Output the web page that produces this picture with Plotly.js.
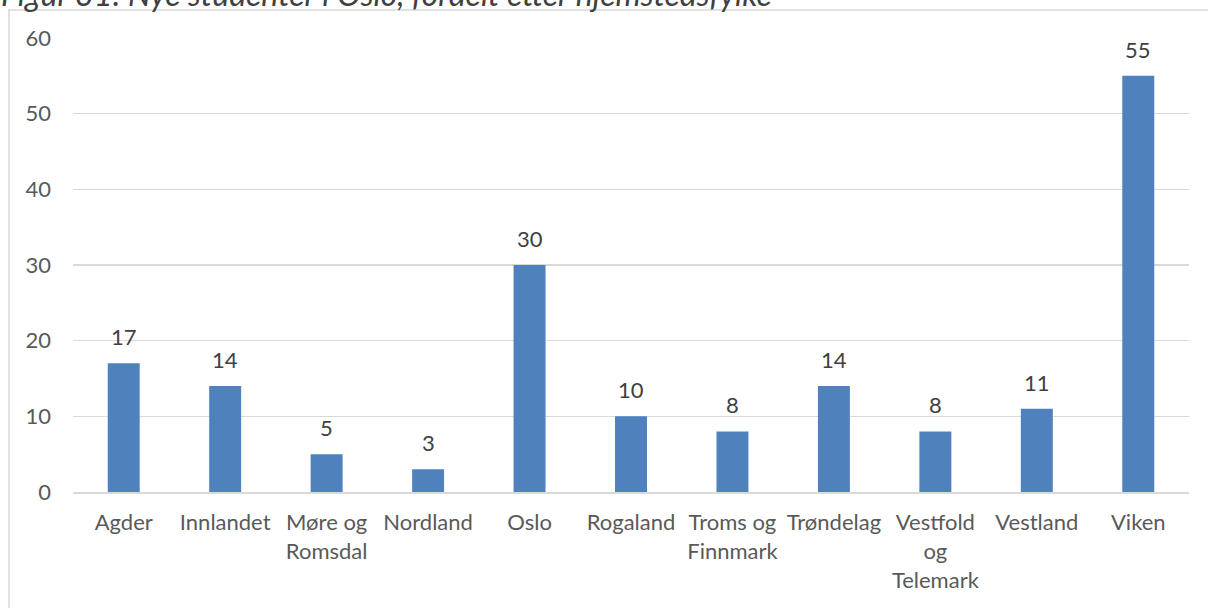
<!DOCTYPE html>
<html>
<head>
<meta charset="utf-8">
<script src="https://cdn.plot.ly/plotly-3.0.1.min.js"></script>
<style>
html,body{margin:0;padding:0;background:#fff;}
#chart{width:1208px;height:608px;}
</style>
</head>
<body>
<div id="chart"></div>
<script>
const categories = ["Agder", "Innlandet", "Møre og<br>Romsdal", "Nordland", "Oslo", "Rogaland",
  "Troms og<br>Finnmark", "Trøndelag", "Vestfold<br>og<br>Telemark", "Vestland", "Viken"];
const values = [17, 14, 5, 3, 30, 10, 8, 14, 8, 11, 55];
const yTicks = [0, 10, 20, 30, 40, 50, 60];
const titleText = "Figur 31: Nye studenter i Oslo, fordelt etter hjemstedsfylke";

const W = 1208, H = 608;
const margin = {l: 73, r: 19, t: 38, b: 116};
const plotW = W - margin.l - margin.r;
const plotH = H - margin.t - margin.b;
const px2paperX = px => (px - margin.l) / plotW;
const px2paperY = py => 1 - (py - margin.t) / plotH;

const FONT = "Lato, 'Open Sans', sans-serif";

const trace = {
  type: "bar",
  x: categories,
  y: values,
  marker: {color: "#4f81bd"},
  hoverinfo: "x+y"
};

const labelAnnotations = categories.map((c, i) => ({
  x: c, y: values[i], xref: "x", yref: "y",
  text: String(values[i]),
  showarrow: false, yanchor: "bottom", yshift: 11,
  font: {family: FONT, size: 22, color: "#404040"}
}));

const titleAnnotation = {
  xref: "paper", yref: "paper",
  x: px2paperX(-1), y: px2paperY(-7),
  xanchor: "left", yanchor: "middle",
  text: "<i>" + titleText + "</i>",
  showarrow: false,
  font: {family: FONT, size: 32, color: "#404040"}
};

const layout = {
  width: W, height: H,
  margin: margin,
  paper_bgcolor: "#ffffff",
  plot_bgcolor: "#ffffff",
  bargap: 0.685,
  showlegend: false,
  font: {family: FONT, size: 22, color: "#595959"},
  xaxis: {
    type: "category",
    showgrid: false,
    showline: true, linecolor: "#d9d9d9", linewidth: 2,
    ticks: "",
    tickangle: 0,
    ticklabelstandoff: 10,
    tickfont: {family: FONT, size: 22, color: "#595959"},
    zeroline: false
  },
  yaxis: {
    range: [0, 60],
    tickvals: yTicks,
    ticktext: yTicks.map(String),
    showgrid: true, gridcolor: "#d9d9d9", gridwidth: 1.5,
    zeroline: false,
    showline: false,
    ticks: "",
    ticklabelstandoff: 21,
    tickfont: {family: FONT, size: 22, color: "#595959"}
  },
  annotations: [titleAnnotation].concat(labelAnnotations),
  shapes: [{
    type: "rect", xref: "paper", yref: "paper", layer: "below",
    x0: px2paperX(9), x1: px2paperX(1230),
    y0: px2paperY(640), y1: px2paperY(10),
    line: {color: "#d9d9d9", width: 1.5},
    fillcolor: "rgba(0,0,0,0)"
  }]
};

Plotly.newPlot("chart", [trace], layout, {displayModeBar: false, staticPlot: true});
</script>
</body>
</html>
